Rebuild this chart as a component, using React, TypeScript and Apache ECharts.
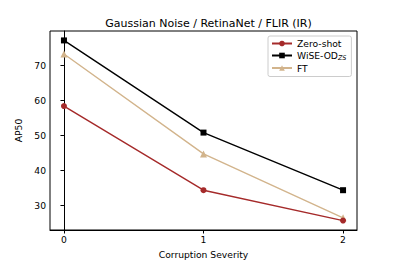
import React, { useEffect, useRef } from "react";
import * as echarts from "echarts";

const severities = [0, 1, 2];
const zeroShot = [58.4, 34.3, 25.6];
const wiseOD = [77.2, 50.8, 34.3];
const ft = [73.3, 44.7, 26.4];
const yTicks = [30, 40, 50, 60, 70];
const xTicks = [0, 1, 2];

const FONT = "DejaVu Sans";
const FS = 9.2;

export default function App() {
  const ref = useRef<HTMLDivElement>(null);
  useEffect(() => {
    if (!ref.current) return;
    const chart = echarts.init(ref.current, null, { renderer: "svg" });
    const mk = (arr: number[]) => severities.map((s, i) => [s, arr[i]]);
    chart.setOption({
      animation: false,
      backgroundColor: "#ffffff",
      textStyle: { fontFamily: FONT },
      title: {
        text: "Gaussian Noise / RetinaNet / FLIR (IR)",
        left: 203.5,
        textAlign: "center",
        top: 13,
        textStyle: { fontFamily: FONT, fontSize: 11, fontWeight: "normal", color: "#000" },
      },
      grid: {
        left: 50,
        right: 40,
        top: 31,
        bottom: 30,
        show: true,
        borderColor: "#000",
        borderWidth: 1,
        backgroundColor: "transparent",
      },
      xAxis: {
        type: "value",
        min: -0.1,
        max: 2.1,
        name: "Corruption Severity",
        nameLocation: "middle",
        nameGap: 20,
        nameTextStyle: { fontFamily: FONT, fontSize: FS, color: "#000" },
        axisLine: { show: true, lineStyle: { color: "#000", width: 1 } },
        axisTick: { show: true, length: 3.5, customValues: xTicks, lineStyle: { color: "#000" } },
        axisLabel: { customValues: xTicks, fontFamily: FONT, fontSize: FS, color: "#000", margin: 5 },
        splitLine: { show: false },
      },
      yAxis: {
        type: "value",
        min: 22.9,
        max: 79.9,
        name: "AP50",
        nameLocation: "middle",
        nameGap: 27,
        nameTextStyle: { fontFamily: FONT, fontSize: FS, color: "#000" },
        axisLine: { show: true, lineStyle: { color: "#000", width: 1 } },
        axisTick: { show: true, length: 3.5, customValues: yTicks, lineStyle: { color: "#000" } },
        axisLabel: { customValues: yTicks, fontFamily: FONT, fontSize: FS, color: "#000", margin: 4 },
        splitLine: { show: false },
      },
      legend: {
        left: 268,
        top: 36,
        orient: "vertical",
        itemWidth: 20,
        itemHeight: 7,
        itemGap: 3,
        padding: [3, 5, 4, 3],
        borderColor: "#cccccc",
        borderWidth: 1,
        borderRadius: 2,
        backgroundColor: "rgba(255,255,255,0.8)",
        textStyle: {
          fontFamily: FONT,
          fontSize: FS,
          color: "#000",
          rich: {
            a: { fontFamily: FONT, fontSize: FS, color: "#000" },
            s: { fontFamily: FONT, fontSize: 6.4, fontStyle: "italic", color: "#000", padding: [4, 0, 0, 0] },
          },
        },
        formatter: (name: string) => (name === "WiSE-OD" ? "{a|WiSE-OD}{s|ZS}" : name),
        data: ["Zero-shot", "WiSE-OD", "FT"],
      },
      series: [
        {
          name: "Zero-shot",
          type: "line",
          data: mk(zeroShot),
          symbol: "circle",
          symbolSize: 6,
          lineStyle: { color: "#a52a2a", width: 1.4 },
          itemStyle: { color: "#a52a2a" },
          z: 3,
        },
        {
          name: "WiSE-OD",
          type: "line",
          data: mk(wiseOD),
          symbol: "rect",
          symbolSize: 6,
          lineStyle: { color: "#000000", width: 1.4 },
          itemStyle: { color: "#000000" },
          z: 4,
        },
        {
          name: "FT",
          type: "line",
          data: mk(ft),
          symbol: "triangle",
          symbolSize: 7,
          lineStyle: { color: "#d2b48c", width: 1.4 },
          itemStyle: { color: "#d2b48c" },
          z: 2,
        },
      ],
    });
    return () => chart.dispose();
  }, []);
  return (
    <div
      ref={ref}
      style={{ position: "fixed", left: 0, top: 0, width: 397, height: 264 }}
    />
  );
}
